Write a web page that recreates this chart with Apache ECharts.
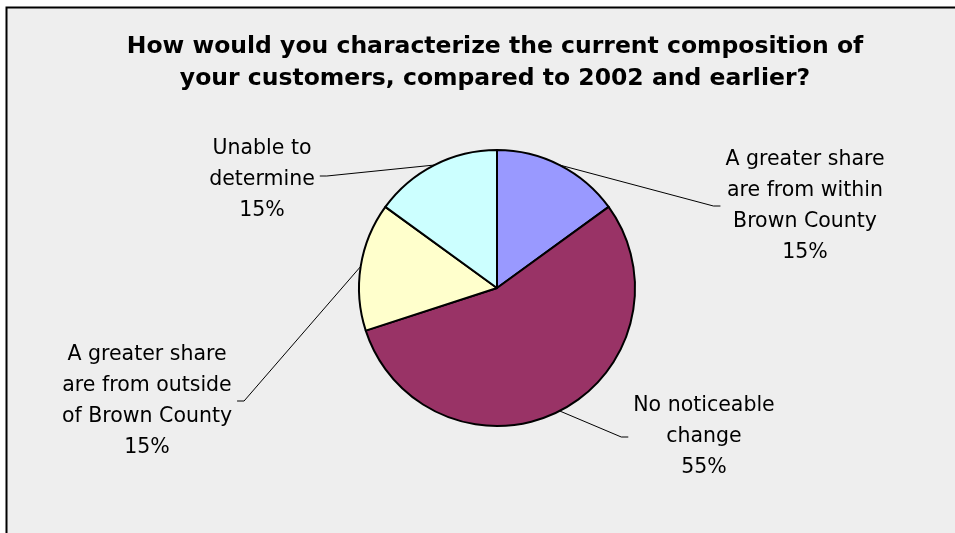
<!DOCTYPE html>
<html>
<head>
<meta charset="utf-8">
<title>Customer composition</title>
<script src="https://cdn.jsdelivr.net/npm/echarts@6/dist/echarts.min.js"></script>
<style>
  html, body { margin: 0; padding: 0; background: #ffffff; }
  #chart { width: 955px; height: 533px; }
</style>
</head>
<body>
<div id="chart"></div>
<script>
  // data
  var categories = [
    'A greater share\nare from within\nBrown County',
    'No noticeable\nchange',
    'A greater share\nare from outside\nof Brown County',
    'Unable to\ndetermine'
  ];
  var shares = [15, 55, 15, 15];
  var sliceColors = ['#9999ff', '#993366', '#ffffcc', '#ccffff'];

  // where each label sits (centre of the text block) and which side its leader comes in from
  var labelSpots = [
    { x: 805, y: 206, side: 'right' },
    { x: 704, y: 437, side: 'right' },
    { x: 147, y: 401, side: 'left' },
    { x: 262, y: 180, side: 'left' }
  ];

  var chart = echarts.init(document.getElementById('chart'));

  chart.setOption({
    backgroundColor: '#ffffff',
    animation: false,
    graphic: [{
      type: 'rect',
      silent: true,
      z: -10,
      shape: { x: 6.5, y: 7.5, width: 1000, height: 600 },
      style: { fill: '#eeeeee', stroke: '#000000', lineWidth: 2 }
    }],
    title: {
      text: 'How would you characterize the current composition of\nyour customers, compared to 2002 and earlier?',
      left: 490,
      top: 26,
      textAlign: 'center',
      textStyle: {
        fontFamily: 'DejaVu Sans',
        fontWeight: 'bold',
        fontSize: 23.5,
        lineHeight: 32,
        color: '#000000'
      }
    },
    series: [{
      type: 'pie',
      center: [497, 288],
      radius: 138,
      startAngle: 90,
      clockwise: true,
      avoidLabelOverlap: false,
      itemStyle: { borderColor: '#000000', borderWidth: 2 },
      emphasis: { disabled: true },
      label: {
        show: true,
        position: 'outside',
        formatter: function (p) { return p.name + '\n' + p.value + '%'; },
        fontFamily: 'DejaVu Sans',
        fontSize: 20.5,
        lineHeight: 31,
        color: '#000000',
        align: 'center'
      },
      labelLine: {
        show: true,
        lineStyle: { color: '#000000', width: 1 }
      },
      labelLayout: function (params) {
        var spot = labelSpots[params.dataIndex];
        var w = params.labelRect.width;
        var start = params.labelLinePoints ? params.labelLinePoints[0] : [spot.x, spot.y];
        var endX, elbowX;
        if (spot.side === 'right') {
          endX = spot.x - w / 2 - 5;
          elbowX = endX - 7;
        } else {
          endX = spot.x + w / 2 + 5;
          elbowX = endX + 7;
        }
        var lineY = params.dataIndex === 3 ? spot.y - 4 : spot.y;
        return {
          x: spot.x,
          y: spot.y,
          align: 'center',
          verticalAlign: 'middle',
          labelLinePoints: [start, [elbowX, lineY], [endX, lineY]]
        };
      },
      data: categories.map(function (name, i) {
        return { name: name, value: shares[i], itemStyle: { color: sliceColors[i] } };
      })
    }]
  });
</script>
</body>
</html>
